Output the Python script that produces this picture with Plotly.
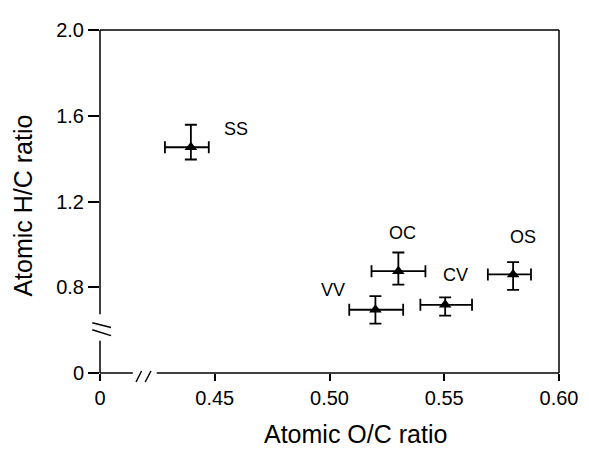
import plotly.graph_objects as go

# ---- data ----
samples = ["SS", "OC", "VV", "CV", "OS"]
oc_ratio = [0.4396, 0.5300, 0.5200, 0.5504, 0.5800]
oc_err_plus = [0.0078, 0.0118, 0.0121, 0.0117, 0.0078]
oc_err_minus = [0.0113, 0.0117, 0.0114, 0.0108, 0.0110]
hc_ratio = [1.453, 0.875, 0.695, 0.718, 0.860]
hc_err_plus = [0.105, 0.087, 0.064, 0.035, 0.057]
hc_err_minus = [0.057, 0.063, 0.065, 0.050, 0.072]

x_tickvals = [0.40, 0.45, 0.50, 0.55, 0.60]
x_ticktext = ["0", "0.45", "0.50", "0.55", "0.60"]
y_tickvals = [0.4, 0.8, 1.2, 1.6, 2.0]
y_ticktext = ["0", "0.8", "1.2", "1.6", "2.0"]

# ---- styling ----
FONT = "Liberation Sans, Arial, Helvetica, sans-serif"
BLACK = "#000000"
label_shift = {"SS": (45, 18), "OC": (4, 38), "VV": (-42, 20), "CV": (10, 30), "OS": (10, 37)}

X_MIN, X_MAX = 0.40, 0.60
Y_MIN, Y_MAX = 0.40, 2.00
X_BREAK = (0.4143, 0.4247)
Y_BREAK = (0.550, 0.674)

fig = go.Figure()
fig.add_trace(go.Scatter(
    x=oc_ratio, y=hc_ratio, mode="markers",
    marker=dict(symbol="triangle-up", size=11, color=BLACK),
    error_x=dict(type="data", symmetric=False, array=oc_err_plus, arrayminus=oc_err_minus,
                 color=BLACK, thickness=1.8, width=6),
    error_y=dict(type="data", symmetric=False, array=hc_err_plus, arrayminus=hc_err_minus,
                 color=BLACK, thickness=1.8, width=6),
    showlegend=False, hoverinfo="skip",
))

for s, xv, yv in zip(samples, oc_ratio, hc_ratio):
    dx, dy = label_shift[s]
    fig.add_annotation(x=xv, y=yv, text=s, showarrow=False, xshift=dx, yshift=dy,
                       xanchor="center", yanchor="middle",
                       font=dict(family=FONT, size=18, color=BLACK))

line = dict(color=BLACK, width=1.5)
shapes = [
    # top and right frame
    dict(type="line", xref="paper", yref="paper", x0=0, x1=1, y0=1, y1=1, line=line),
    dict(type="line", xref="paper", yref="paper", x0=1, x1=1, y0=0, y1=1, line=line),
    # left axis, broken
    dict(type="line", xref="paper", yref="y", x0=0, x1=0, y0=Y_BREAK[1], y1=Y_MAX, line=line),
    dict(type="line", xref="paper", yref="y", x0=0, x1=0, y0=Y_MIN, y1=Y_BREAK[0], line=line),
    # bottom axis, broken
    dict(type="line", xref="x", yref="paper", x0=X_MIN, x1=X_BREAK[0], y0=0, y1=0, line=line),
    dict(type="line", xref="x", yref="paper", x0=X_BREAK[1], x1=X_MAX, y0=0, y1=0, line=line),
]
# break marks on y axis
for ya, yb in [(0.6345, 0.6120), (0.6015, 0.5744)]:
    shapes.append(dict(type="line", xref="paper", xsizemode="pixel", xanchor=0,
                       x0=-7.7, x1=11, yref="y", y0=ya, y1=yb, line=line))
# break marks on x axis
for xa, xb in [(0.4157, 0.4181), (0.4197, 0.4222)]:
    shapes.append(dict(type="line", xref="x", x0=xa, x1=xb, yref="paper", ysizemode="pixel",
                       yanchor=0, y0=-9, y1=2, line=line))

fig.add_annotation(x=0.557, y=-0.179, xref="paper", yref="paper", text="Atomic O/C ratio",
                   showarrow=False, xanchor="center", yanchor="middle",
                   font=dict(family=FONT, size=25, color=BLACK))
fig.add_annotation(x=-0.167, y=0.489, xref="paper", yref="paper", text="Atomic H/C ratio",
                   showarrow=False, xanchor="center", yanchor="middle", textangle=-90,
                   font=dict(family=FONT, size=25, color=BLACK))

# the page body has an 8px default margin: the figure is shrunk and shifted by 8px
fig.update_layout(
    width=581, height=442,
    margin=dict(l=92, r=22, t=11, b=77),
    paper_bgcolor="white", plot_bgcolor="white",
    shapes=shapes,
    font=dict(family=FONT, color=BLACK),
    xaxis=dict(range=[X_MIN, X_MAX], tickvals=x_tickvals, ticktext=x_ticktext,
               showgrid=False, zeroline=False, showline=False,
               ticks="outside", ticklen=7, tickwidth=1.5, tickcolor=BLACK,
               tickfont=dict(family=FONT, size=20, color=BLACK)),
    yaxis=dict(range=[Y_MIN, Y_MAX], tickvals=y_tickvals, ticktext=y_ticktext,
               showgrid=False, zeroline=False, showline=False,
               ticks="outside", ticklen=11, tickwidth=1.5, tickcolor=BLACK,
               tickfont=dict(family=FONT, size=20, color=BLACK)),
)

fig.write_html("out.html")
